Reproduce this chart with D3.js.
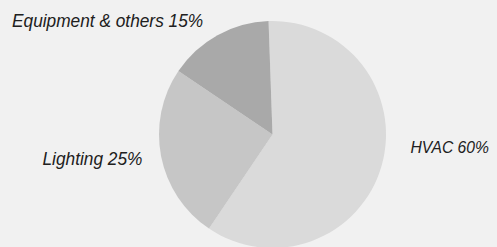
<!DOCTYPE html>
<html>
<head>
<meta charset="utf-8">
<script src="https://cdn.jsdelivr.net/npm/d3@7"></script>
<style>
  html, body { margin: 0; padding: 0; background: #f1f1f1; }
  svg { display: block; }
</style>
</head>
<body>
<svg id="chart" width="497" height="247"></svg>
<script>
const categories = ["HVAC", "Lighting", "Equipment & others"];
const values = [60, 25, 15];
const labels = ["HVAC 60%", "Lighting 25%", "Equipment & others 15%"];
const colors = ["#dadada", "#c6c6c6", "#a9a9a9"];

const W = 497, H = 247;
const cx = 272.5, cy = 134.5, R = 113.5;
const svg = d3.select("#chart");
svg.append("rect").attr("width", W).attr("height", H).attr("fill", "#f1f1f1");

const startDeg = -2;
const pie = d3.pie().sort(null)
  .startAngle(startDeg * Math.PI / 180)
  .endAngle((360 + startDeg) * Math.PI / 180)
  .value(d => d);
const arc = d3.arc().innerRadius(0).outerRadius(R);

const g = svg.append("g").attr("transform", `translate(${cx},${cy})`);
g.selectAll("path").data(pie(values)).enter().append("path")
  .attr("d", arc)
  .attr("fill", (d, i) => colors[i]);

// label positions (left-anchored text baselines)
const labelPos = [[410.5, 153], [42.5, 165.3], [12, 27.3]];
const fontSizes = [17, 18, 18];
const texts = svg.selectAll("text.lbl").data(labels).enter().append("text")
  .attr("class", "lbl")
  .attr("x", (d, i) => labelPos[i][0])
  .attr("y", (d, i) => labelPos[i][1])
  .attr("font-family", "Liberation Sans, Arial, sans-serif")
  .attr("font-style", "italic")
  .attr("font-size", (d, i) => fontSizes[i])
  .attr("fill", "#202020")
  .text(d => d);
// slightly condensed lettering, kept inside the canvas
texts.each(function(d, i) {
  const w = this.getComputedTextLength();
  const maxW = W - labelPos[i][0] - 8;
  const target = Math.min(w * 0.96, maxW);
  d3.select(this).attr("textLength", target).attr("lengthAdjust", "spacingAndGlyphs");
});
</script>
</body>
</html>
